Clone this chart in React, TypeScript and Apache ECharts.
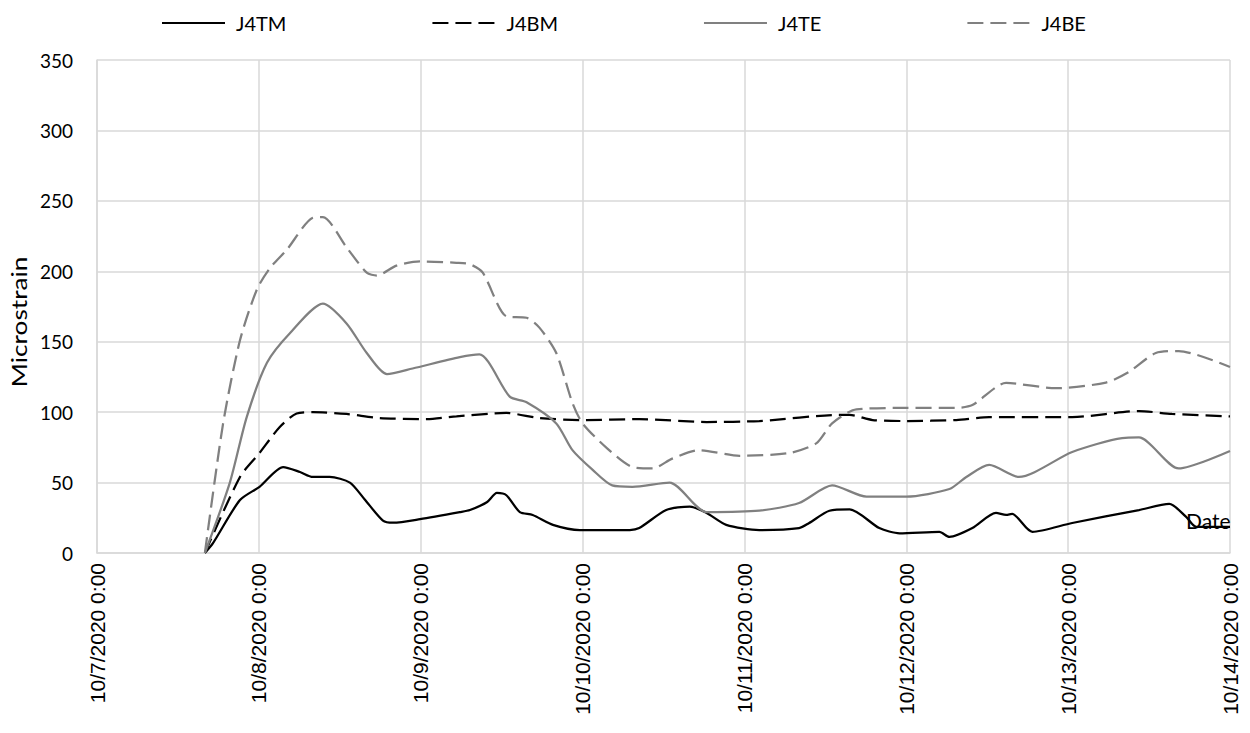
import React, { useEffect, useRef } from "react";
import * as echarts from "echarts";

// Hours since 10/7/2020 0:00 and strain readings for each gauge
const tmHours = [16, 17.2, 21.2, 24.1, 27.6, 30.1, 32, 34.5, 37.5, 39.7, 42.4, 43.9, 47.9, 53.8, 55.3, 57.8, 59.3, 60.7, 62.7, 64.6, 67.6, 71.6, 79, 80.4, 84.4, 87.9, 90.4, 93.3, 98.2, 104.1, 105.6, 108.6, 111.6, 116, 119, 124.9, 126.4, 129.8, 133.3, 134.8, 135.7, 138.7, 144.6, 154.5, 159, 161.5, 163, 168];
const tmValues = [0, 7, 37.6, 47, 61, 57.5, 54, 54, 50, 38, 23, 21.5, 24, 29, 30.5, 36, 42.6, 41, 29, 27, 20, 16.3, 16.3, 17.7, 30.5, 33, 28.4, 20, 16.3, 17.7, 21.3, 30, 31, 17.7, 14, 15, 11.4, 17.7, 28.4, 27, 27.7, 15, 21.3, 30.5, 34.8, 25.6, 18.5, 18.5];

const bmHours = [16, 21.2, 24.1, 27.1, 29.6, 32, 37, 41.9, 48.9, 53.3, 60.7, 65.6, 72, 80.4, 90.4, 98.2, 110.1, 111.6, 115, 120, 127.4, 132.3, 144.6, 154.5, 159.4, 168];
const bmValues = [0, 54, 71, 89.5, 99, 100, 98.7, 95.8, 95, 97, 99.4, 95.8, 94.4, 95, 93, 93.7, 98, 98, 94.4, 93.7, 94.4, 96.5, 96.5, 100.8, 98.7, 97];

const teHours = [16, 19.7, 22.2, 25.2, 28.6, 33.5, 37, 40, 43, 46.8, 53.8, 56.7, 61.2, 63.7, 68.1, 70.5, 73.5, 76.4, 79.4, 84.9, 90.4, 98.2, 104.1, 109, 114.1, 120, 126.4, 128.9, 132.3, 136.7, 144.6, 152, 154.5, 160.4, 168];
const teValues = [0, 50, 96.5, 135, 156, 177, 163, 142, 127, 131, 139, 141, 111, 107, 92, 73, 59, 48, 47, 50, 29, 30, 35.5, 48, 40, 40, 45.4, 54, 62.5, 54, 71.7, 81.6, 82, 60, 72.4];

const beHours = [16, 18.7, 21.2, 23.7, 25.6, 28.1, 32, 33.5, 37, 40, 41.5, 44.4, 47.9, 53.3, 55.3, 57.2, 60.7, 63.7, 65.6, 68.1, 70.5, 72, 75.6, 79.4, 82.4, 85.3, 89.3, 95.3, 102.7, 106.7, 109, 112.6, 120, 127.4, 129.8, 134.8, 142.2, 149.6, 153, 157, 160.4, 168];
const beValues = [0, 92, 151, 187, 202, 215, 238, 238.5, 217, 199, 197, 204, 207, 206, 205, 199, 168, 167, 160, 142, 106.5, 92, 74.5, 61, 60, 67, 73, 69, 71, 78, 92, 102, 103, 103, 105, 120.7, 117, 121, 128.5, 142, 143.4, 132];

const dayLabels = ["10/7/2020 0:00", "10/8/2020 0:00", "10/9/2020 0:00", "10/10/2020 0:00", "10/11/2020 0:00", "10/12/2020 0:00", "10/13/2020 0:00", "10/14/2020 0:00"];

const pair = (h: number[], v: number[]) => h.map((x, i) => [x, v[i]]);

const BLACK = "#000000";
const GRAY = "#808080";
const GRID = "#d9d9d9";
const BODY_FONT = "Lato, 'Open Sans', sans-serif";

export default function App() {
  const ref = useRef<HTMLDivElement>(null);

  useEffect(() => {
    if (!ref.current) return;
    const chart = echarts.init(ref.current, undefined, { renderer: "svg" });
    const lineSeries = (name: string, data: number[][], color: string, dashed: boolean) => ({
      name,
      type: "line",
      data,
      symbol: "none",
      smooth: 0.25,
      lineStyle: { color, width: 2.25, type: dashed ? [16, 7] : "solid" },
      itemStyle: { color },
    });
    chart.setOption({
      animation: false,
      backgroundColor: "#ffffff",
      grid: { left: 97, right: 20, top: 60, bottom: 180, containLabel: false },
      legend: {
        left: 156,
        top: 8,
        itemWidth: 63,
        itemHeight: 14,
        itemGap: 145,
        itemStyle: { opacity: 0 },
        textStyle: { fontSize: 20, fontFamily: BODY_FONT, color: "#000", padding: [0, 0, 0, 6] },
        data: ["J4TM", "J4BM", "J4TE", "J4BE"],
      },
      xAxis: {
        type: "value",
        min: 0,
        max: 168,
        interval: 24,
        axisLine: { show: true, lineStyle: { color: GRID, width: 1.5 } },
        axisTick: { show: false },
        splitLine: { show: true, lineStyle: { color: GRID, width: 1.5 } },
        axisLabel: {
          rotate: 90,
          fontSize: 21,
          fontFamily: "'Liberation Sans', Arial, sans-serif",
          color: "#000",
          margin: 10,
          formatter: (v: number) => dayLabels[Math.round(v / 24)] ?? "",
        },
      },
      yAxis: {
        type: "value",
        min: 0,
        max: 350,
        interval: 50,
        axisLine: { show: true, lineStyle: { color: GRID, width: 1.5 } },
        axisTick: { show: false },
        splitLine: { show: true, lineStyle: { color: GRID, width: 1.5 } },
        axisLabel: { fontSize: 19, fontFamily: BODY_FONT, color: "#000", margin: 24 },
      },
      graphic: [
        {
          type: "text",
          x: 19,
          y: 322,
          rotation: Math.PI / 2,
          scaleX: 1.25,
          style: {
            text: "Microstrain",
            fontSize: 21,
            fontFamily: BODY_FONT,
            fill: "#000",
            align: "center",
            verticalAlign: "middle",
          },
        },
        {
          type: "text",
          x: 1186,
          y: 510,
          z: 100,
          style: { text: "Date", fontSize: 21, fontFamily: BODY_FONT, fill: "#000" },
        },
      ],
      series: [
        lineSeries("J4TM", pair(tmHours, tmValues), BLACK, false),
        lineSeries("J4BM", pair(bmHours, bmValues), BLACK, true),
        lineSeries("J4TE", pair(teHours, teValues), GRAY, false),
        lineSeries("J4BE", pair(beHours, beValues), GRAY, true),
      ],
    });
    return () => chart.dispose();
  }, []);

  return <div ref={ref} style={{ width: 1250, height: 733, position: "absolute", left: 0, top: 0 }} />;
}
